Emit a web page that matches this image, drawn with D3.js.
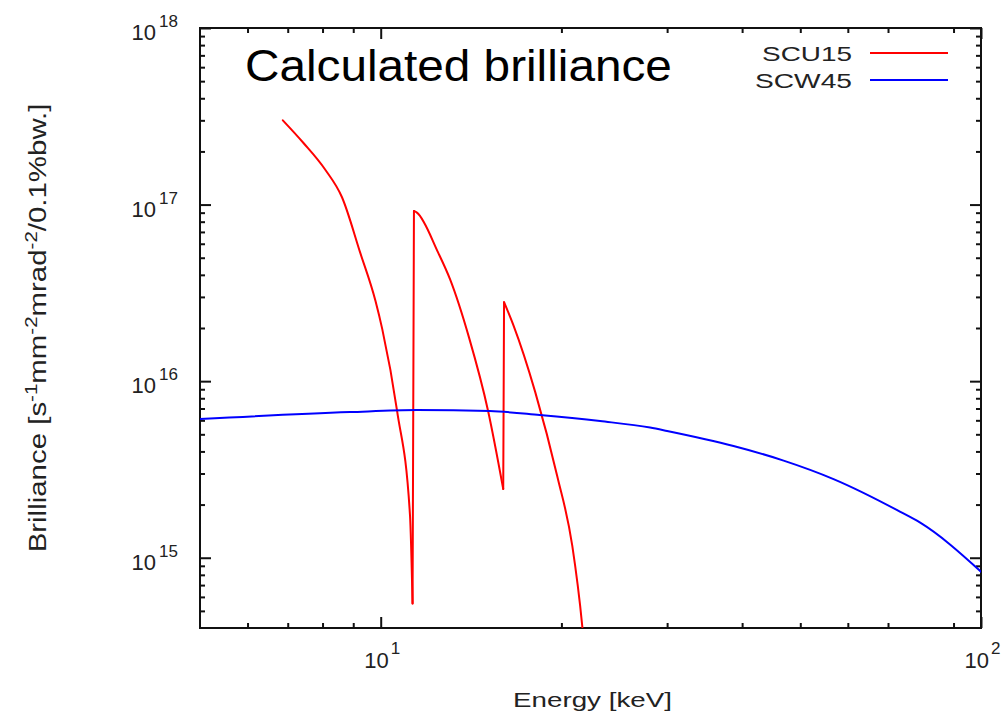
<!DOCTYPE html>
<html>
<head>
<meta charset="utf-8">
<script src="https://cdn.jsdelivr.net/npm/d3@7"></script>
<style>
  body { margin: 0; background: #fff; }
  svg { display: block; }
  text { font-family: "Liberation Sans", Arial, Helvetica, sans-serif; }
</style>
</head>
<body>
<svg id="chart" width="1005" height="714"></svg>
<script>
// SCU15 undulator brilliance (harmonics produce the saw-tooth jumps)
const scu15Energy = [6.87, 7.43, 8.08, 8.62, 9.24, 9.80, 10.06, 10.65, 11.19, 11.30,
                     11.36, 11.49, 12.46, 13.05, 14.03, 15.1, 16.0,
                     16.05, 16.64, 18.09, 19.68, 20.85, 21.66, 21.8];
const scu15Brilliance = [3.0e17, 2.24e17, 1.58e17, 1.1e17, 5.36e16, 2.85e16, 1.97e16, 6.76e15, 1.73e15, 5.5e14,
                         9.2e16, 9.0e16, 5.36e16, 3.77e16, 1.77e16, 6.76e15, 2.45e15,
                         2.8e16, 2.07e16, 8.67e15, 2.9e15, 1.17e15, 4.13e14, 3.27e14];

// SCW45 wiggler brilliance
const scw45Energy = [5.0, 8.89, 11.5, 15.2, 18.4, 23.2, 28.1, 30.0, 38.7, 46.9, 56.8, 73.4, 79.2, 100];
const scw45Brilliance = [6.1e15, 6.68e15, 6.86e15, 6.77e15, 6.43e15, 5.94e15, 5.46e15, 5.22e15, 4.29e15, 3.55e15,
                         2.79e15, 1.82e15, 1.58e15, 8.34e14];

const seriesNames = ["SCU15", "SCW45"];
const seriesColors = ["#ff0000", "#0000ff"];

// axis ticks
const xMajorTicks = [10, 100];
const xMajorExponents = ["1", "2"];
const xMinorTicks = [6, 7, 8, 9, 20, 30, 40, 50, 60, 70, 90];
const yMajorTicks = [1e15, 1e16, 1e17, 1e18];
const yMajorExponents = ["15", "16", "17", "18"];

const titleText = "Calculated brilliance";
const xLabelText = "Energy [keV]";

const svg = d3.select("#chart");
const W = 1005, H = 714;
const plot = { left: 200, right: 981, top: 28, bottom: 628 };

svg.append("rect").attr("width", W).attr("height", H).attr("fill", "#fff");

const x = d3.scaleLog().domain([5, 100]).range([plot.left, plot.right]);
const y = d3.scaleLog().domain([4e14, 1e18]).range([plot.bottom, plot.top]);

// minor y ticks: 2..9 within each decade inside the domain
const yMinorTicks = [];
for (let d = 14; d <= 17; d++) {
  for (let m = 2; m <= 9; m++) {
    const v = m * Math.pow(10, d);
    if (v > y.domain()[0] && v < y.domain()[1]) yMinorTicks.push(v);
  }
}

const majorLen = 11, minorLen = 5;
const tickColor = "#111";
const labelColor = "#222";

// x axis (bottom) and mirrored top, ticks pointing inward
const gx = svg.append("g").attr("transform", `translate(0,${plot.bottom})`)
  .call(d3.axisTop(x).tickValues(xMajorTicks).tickSize(majorLen).tickFormat(""));
gx.append("g").call(d3.axisTop(x).tickValues(xMinorTicks).tickSize(minorLen).tickFormat(""));
const gxt = svg.append("g").attr("transform", `translate(0,${plot.top})`)
  .call(d3.axisBottom(x).tickValues(xMajorTicks).tickSize(majorLen).tickFormat(""));
gxt.append("g").call(d3.axisBottom(x).tickValues(xMinorTicks).tickSize(minorLen).tickFormat(""));

// y axis (left) and mirrored right
const gy = svg.append("g").attr("transform", `translate(${plot.left},0)`)
  .call(d3.axisRight(y).tickValues(yMajorTicks).tickSize(majorLen).tickFormat(""));
gy.append("g").call(d3.axisRight(y).tickValues(yMinorTicks).tickSize(minorLen).tickFormat(""));
const gyr = svg.append("g").attr("transform", `translate(${plot.right},0)`)
  .call(d3.axisLeft(y).tickValues(yMajorTicks).tickSize(majorLen).tickFormat(""));
gyr.append("g").call(d3.axisLeft(y).tickValues(yMinorTicks).tickSize(minorLen).tickFormat(""));

svg.selectAll(".domain").remove();
svg.selectAll(".tick line").attr("stroke", tickColor).attr("stroke-width", 2);

// plot border
svg.append("rect")
  .attr("x", plot.left).attr("y", plot.top)
  .attr("width", plot.right - plot.left).attr("height", plot.bottom - plot.top)
  .attr("fill", "none").attr("stroke", tickColor).attr("stroke-width", 2);

// tick labels as powers of ten
yMajorTicks.forEach((v, i) => {
  const ty = y(v);
  svg.append("text").attr("x", 156).attr("y", ty + 12)
    .attr("text-anchor", "end").attr("font-size", 22).attr("fill", labelColor).text("10");
  svg.append("text").attr("x", 159).attr("y", ty - 1)
    .attr("font-size", 17).attr("fill", labelColor).text(yMajorExponents[i]);
});
xMajorTicks.forEach((v, i) => {
  const tx = x(v);
  svg.append("text").attr("x", tx + 8).attr("y", 668)
    .attr("text-anchor", "end").attr("font-size", 22).attr("fill", labelColor).text("10");
  svg.append("text").attr("x", tx + 10).attr("y", 654)
    .attr("font-size", 17).attr("fill", labelColor).text(xMajorExponents[i]);
});

// curves
svg.append("clipPath").attr("id", "plot-clip")
  .append("rect").attr("x", plot.left).attr("y", plot.top)
  .attr("width", plot.right - plot.left).attr("height", plot.bottom - plot.top);

const smooth = d3.line().x(d => x(d[0])).y(d => y(d[1])).curve(d3.curveMonotoneX);
const straight = d3.line().x(d => x(d[0])).y(d => y(d[1]));
const gLines = svg.append("g").attr("clip-path", "url(#plot-clip)");

function drawPath(d, color) {
  gLines.append("path").attr("d", d)
    .attr("fill", "none").attr("stroke", color)
    .attr("stroke-width", 2).attr("stroke-linejoin", "round").attr("stroke-linecap", "round");
}

// SCU15: each harmonic branch is smooth, joined by the vertical edges
const scuPts = d3.zip(scu15Energy, scu15Brilliance);
const branches = [[scuPts[0]]];
for (let i = 1; i < scuPts.length; i++) {
  if (scuPts[i][1] > scuPts[i - 1][1]) {
    drawPath(straight([scuPts[i - 1], scuPts[i]]), seriesColors[0]);
    branches.push([]);
  }
  branches[branches.length - 1].push(scuPts[i]);
}
branches.forEach(b => drawPath(smooth(b), seriesColors[0]));

// SCW45
drawPath(smooth(d3.zip(scw45Energy, scw45Brilliance)), seriesColors[1]);

// text stretched to a given width
function stretch(sel, target) {
  const w = sel.node().getComputedTextLength();
  return target / w;
}

// legend
const legendRows = [53, 80];
seriesNames.forEach((name, i) => {
  const t = svg.append("text").attr("font-size", 21).attr("fill", labelColor)
    .attr("text-anchor", "end").text(name);
  const k = stretch(t, i === 0 ? 90 : 97);
  t.attr("transform", `translate(852,${legendRows[i] + 8}) scale(${k},1)`);
  svg.append("line")
    .attr("x1", 870).attr("x2", 948)
    .attr("y1", legendRows[i]).attr("y2", legendRows[i])
    .attr("stroke", seriesColors[i]).attr("stroke-width", 2);
});

// title
const title = svg.append("text").attr("font-size", 44).attr("fill", "#000").text(titleText);
title.attr("transform", `translate(245,81) scale(${stretch(title, 427)},1)`);

// x axis label
const xl = svg.append("text").attr("font-size", 21).attr("fill", labelColor).text(xLabelText);
xl.attr("transform", `translate(513,707) scale(${stretch(xl, 159)},1)`);

// y axis label with superscripts
const yl = svg.append("text").attr("font-size", 23).attr("fill", labelColor)
  .attr("text-anchor", "middle");
const yParts = [["Brilliance [s", false], ["-1", true], ["mm", false], ["-2", true],
                ["mrad", false], ["-2", true], ["/0.1%bw.]", false]];
yParts.forEach(([s, sup], i) => {
  const prevSup = i > 0 && yParts[i - 1][1];
  yl.append("tspan")
    .attr("font-size", sup ? 16 : 23)
    .attr("dy", sup ? -9 : (prevSup ? 9 : 0))
    .text(s);
});
yl.attr("transform", `translate(46,328) rotate(-90) scale(${stretch(yl, 449)},1)`);
</script>
</body>
</html>
